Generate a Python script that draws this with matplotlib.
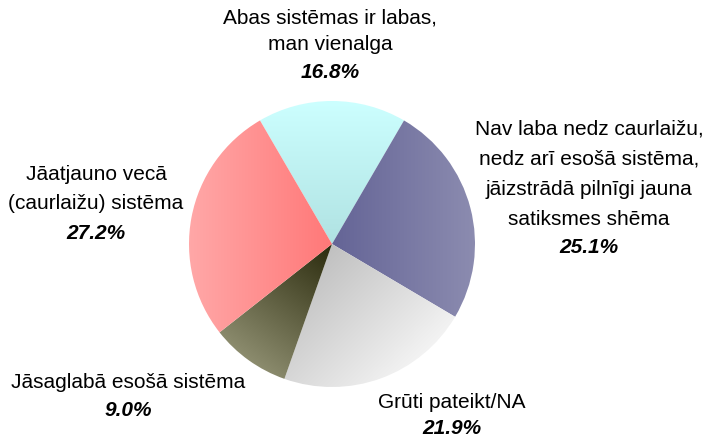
#!/usr/bin/env python3

import numpy as np
import matplotlib
matplotlib.use('Agg')
import matplotlib.pyplot as plt
from matplotlib.colors import to_rgb

# data
categories = [
    'Abas sistēmas ir labas,\nman vienalga',
    'Nav laba nedz caurlaižu,\nnedz arī esošā sistēma,\njāizstrādā pilnīgi jauna\nsatiksmes shēma',
    'Grūti pateikt/NA',
    'Jāsaglabā esošā sistēma',
    'Jāatjauno vecā\n(caurlaižu) sistēma',
]
values = [16.8, 25.1, 21.9, 9.0, 27.2]

# gradients per slice: (start colour, end colour, direction)
grads = [
    ('#b0e2e2', '#ccffff', (0, 1)),
    ('#646496', '#8c8cb0', (1, 0)),
    ('#c0c0c0', '#f4f4f4', (0.7, -0.7)),
    ('#2a2a0c', '#8c8c6e', (-0.6, -0.8)),
    ('#ffa8a8', '#ff7878', (1, 0)),
]

# label layout (pixel from top-left): x, name centre y, pct y, linespacing
label_pos = [
    (330, 31, 72, 1.52),
    (589, 174, 247, 1.74),
    (452, 402, 428, 1.5),
    (128, 382, 411, 1.5),
    (96, 189, 233, 1.72),
]

W, H = 707, 436
cx, cy, r = 332, H - 244, 143

plt.rcParams['font.family'] = ['Liberation Sans', 'DejaVu Sans']

fig = plt.figure(figsize=(W / 100, H / 100), dpi=100)
ax = fig.add_axes([0, 0, 1, 1])

start = 90 + values[0] / 100 * 360 / 2
wedges, _ = ax.pie(values, startangle=start, counterclock=False,
                   center=(cx, cy), radius=r, frame=True)

n = 300
xs = np.linspace(cx - r, cx + r, n)
ys = np.linspace(cy + r, cy - r, n)
X, Y = np.meshgrid(xs, ys)
for w, (c0, c1, d) in zip(wedges, grads):
    w.set_facecolor('none')
    w.set_edgecolor('none')
    d = np.array(d) / np.hypot(*d)
    verts = w.get_path().vertices
    proj = verts @ d
    t = (X * d[0] + Y * d[1] - proj.min()) / (proj.max() - proj.min())
    t = np.clip(t, 0, 1)
    a, b = np.array(to_rgb(c0)), np.array(to_rgb(c1))
    img = a + (b - a) * t[..., None]
    im = ax.imshow(img, extent=[cx - r, cx + r, cy - r, cy + r],
                   interpolation='bilinear', zorder=1)
    im.set_clip_path(w)

ax.set_xlim(0, W)
ax.set_ylim(0, H)
ax.set_aspect('equal')
ax.axis('off')

for name, v, (x, ny, py, ls) in zip(categories, values, label_pos):
    ax.text(x, H - ny, name, ha='center', va='center', fontsize=15,
            linespacing=ls, zorder=3)
    ax.text(x, H - py, f'{v:.1f}%', ha='center', va='center', fontsize=15,
            fontweight='bold', fontstyle='italic', zorder=3)

fig.savefig('out.png', dpi=100)
